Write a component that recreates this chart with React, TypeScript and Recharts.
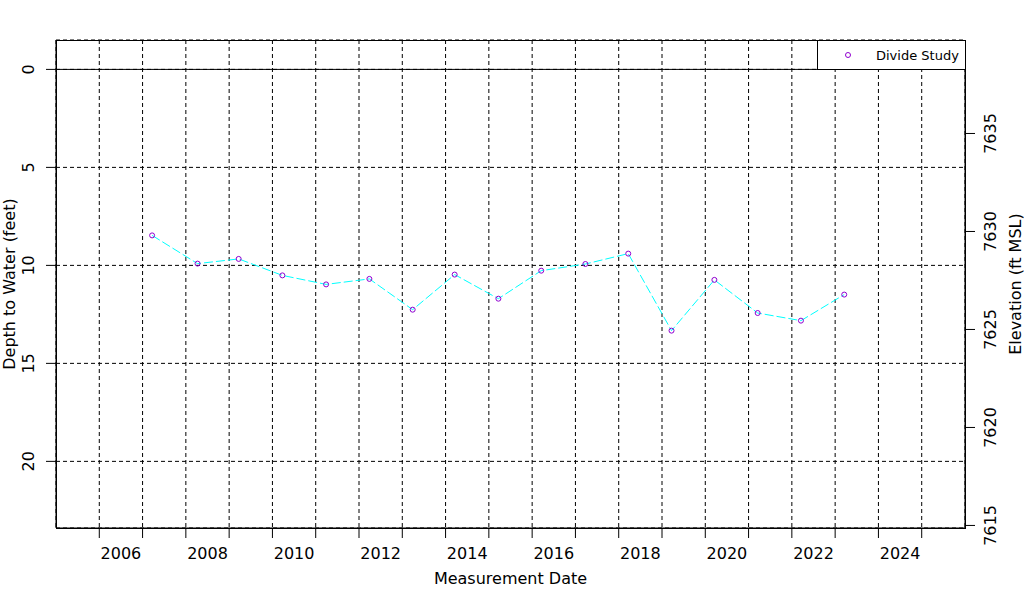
import { Line, LineChart, XAxis, YAxis, CartesianGrid, ReferenceLine, ReferenceArea, Legend } from "recharts";

// measurement dates as decimal years, depth to water in feet
const sampleYears = [
  2007.22, 2008.27, 2009.22, 2010.23, 2011.24, 2012.24, 2013.24, 2014.21, 2015.22,
  2016.21, 2017.23, 2018.22, 2019.22, 2020.21, 2021.21, 2022.21, 2023.21,
];
const depths = [
  8.47, 9.91, 9.67, 10.51, 10.97, 10.69, 12.26, 10.47, 11.7,
  10.27, 9.93, 9.4, 13.33, 10.74, 12.43, 12.82, 11.49,
];

const yearLines = [
  2006, 2007, 2008, 2009, 2010, 2011, 2012, 2013, 2014, 2015,
  2016, 2017, 2018, 2019, 2020, 2021, 2022, 2023, 2024, 2025,
];
const yearLabels = [2006.5, 2008.5, 2010.5, 2012.5, 2014.5, 2016.5, 2018.5, 2020.5, 2022.5, 2024.5];
const depthTicks = [0, 5, 10, 15, 20];
const elevTicks = [7615, 7620, 7625, 7630, 7635];

const depthDomain = [-1.5, 23.4];
const elevDomain = [7614.87, 7639.77];
const dateDomain = [2005, 2026];

const data = sampleYears.map((t, i) => ({ t, depth: depths[i] }));

const FONT = "DejaVu Sans";
const PURPLE = "#9000d0";
const CYAN = "#00ffff";

const DepthTick = (props: any) => {
  const { x, y, payload } = props;
  const cx = x - 17;
  return (
    <text x={cx} y={y} transform={`rotate(-90, ${cx}, ${y})`} textAnchor="middle"
      dominantBaseline="central" fontFamily={FONT} fontSize={16} fill="#000">
      {payload.value}
    </text>
  );
};

const ElevTick = (props: any) => {
  const { x, y, payload } = props;
  const cx = x + 16;
  return (
    <text x={cx} y={y} transform={`rotate(-90, ${cx}, ${y})`} textAnchor="middle"
      dominantBaseline="central" fontFamily={FONT} fontSize={16} fill="#000">
      {payload.value}
    </text>
  );
};

const YearTick = (props: any) => {
  const { x, y, payload } = props;
  return (
    <text x={x} y={y + 15} textAnchor="middle" dominantBaseline="central"
      fontFamily={FONT} fontSize={16} fill="#000">
      {Math.floor(payload.value)}
    </text>
  );
};

const VTitle = ({ x, y, children }: any) => (
  <text x={x} y={y} transform={`rotate(-90, ${x}, ${y})`} textAnchor="middle"
    dominantBaseline="central" fontFamily={FONT} fontSize={16} fill="#000">
    {children}
  </text>
);

const LegendBox = () => (
  <div style={{
    boxSizing: "border-box", width: 149, height: 30, border: "1px solid #000",
    background: "#fff", display: "flex", alignItems: "center", fontFamily: FONT, fontSize: 13,
  }}>
    <svg width={58} height={28}>
      <circle cx={30} cy={14} r={2.5} fill="none" stroke={PURPLE} strokeWidth={1} />
    </svg>
    <span>Divide Study</span>
  </div>
);

export default function App() {
  return (
    <div style={{ width: 1024, height: 600, background: "#fff" }}>
      <style>{"body { margin: 0; }"}</style>
      <LineChart width={1024} height={600} data={data}
        margin={{ top: 40, right: 0, bottom: 0, left: 0 }}>
        <CartesianGrid xAxisId="grid" yAxisId="depth" stroke="#000" strokeDasharray="4 3" />
        <XAxis xAxisId="grid" dataKey="t" type="number" domain={dateDomain} ticks={yearLines}
          allowDataOverflow height={10} tickSize={10} stroke="#000" tick={() => <g />} />
        <XAxis xAxisId="lab" dataKey="t" type="number" domain={dateDomain} ticks={yearLabels}
          allowDataOverflow height={62} tickSize={0} tickMargin={0} axisLine={false}
          tickLine={false} tick={YearTick}
          label={{
            content: ({ viewBox }: any) => (
              <text x={viewBox.x + viewBox.width / 2} y={viewBox.y + 40} textAnchor="middle"
                dominantBaseline="central" fontFamily={FONT} fontSize={16} fill="#000">
                Measurement Date
              </text>
            ),
          }} />
        <YAxis yAxisId="depth" type="number" reversed domain={depthDomain} ticks={depthTicks}
          allowDataOverflow width={56} tickSize={10} tickMargin={0} stroke="#000" tick={DepthTick} />
        <YAxis yAxisId="elev" orientation="right" type="number" domain={elevDomain} ticks={elevTicks}
          allowDataOverflow width={59} tickSize={10} tickMargin={0} stroke="#000" tick={ElevTick} />
        <ReferenceArea xAxisId="grid" yAxisId="depth" x1={dateDomain[0]} x2={dateDomain[1]}
          y1={depthDomain[0]} y2={depthDomain[1]} fill="none" stroke="#000" fillOpacity={0}
          shapeRendering="crispEdges" />
        <ReferenceLine xAxisId="grid" yAxisId="depth" y={0} stroke="#000" />
        <Legend layout="horizontal" verticalAlign="middle" align="center" content={LegendBox}
          wrapperStyle={{ left: 817, top: 40, width: 149, height: 30 }} />
        <Line xAxisId="grid" yAxisId="depth" type="linear" dataKey="depth" name="Divide Study"
          stroke={CYAN} strokeWidth={1} strokeDasharray="9 3" isAnimationActive={false}
          dot={{ r: 2.5, stroke: PURPLE, fill: "none", strokeWidth: 1, strokeDasharray: "none" }}
          activeDot={false} />
        <VTitle x={9} y={284}>Depth to Water (feet)</VTitle>
        <VTitle x={1015} y={284}>Elevation (ft MSL)</VTitle>
      </LineChart>
    </div>
  );
}
